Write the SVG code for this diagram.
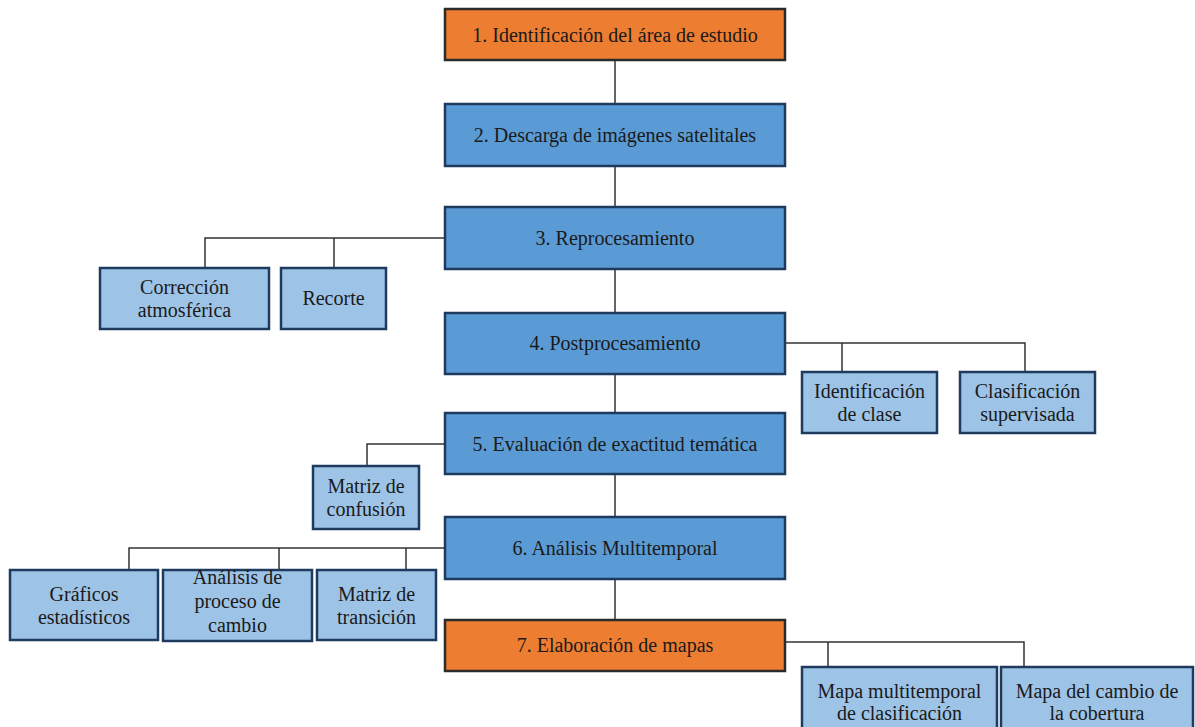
<svg xmlns="http://www.w3.org/2000/svg" width="1195" height="727" viewBox="0 0 1195 727" font-family="'Liberation Serif', 'DejaVu Serif', serif">
<style>
.main{fill:#5B9BD5;stroke:#1F3A5F;stroke-width:2.5}
.orange{fill:#ED7D31;stroke:#2B2B2B;stroke-width:2.5}
.sub{fill:#9DC3E6;stroke:#1F3A5F;stroke-width:2.5}
.conn{fill:none;stroke:#333333;stroke-width:1.5}
.t{font-family:'Liberation Serif','DejaVu Serif',serif;font-size:20px;fill:#1A1A1A;text-anchor:middle}
</style>
<rect width="1195" height="727" fill="#FFFFFF"/>
<g id="connectors">
<path class="conn" d="M615 60V104M615 166V207M615 269V313M615 374V413M615 474V517M615 579V620"/>
<path class="conn" d="M445 238H205V268M334 238V268"/>
<path class="conn" d="M785 343H1025V372M842 343V372"/>
<path class="conn" d="M445 444H367V466"/>
<path class="conn" d="M445 548H129V570M279 548V570M406 548V570"/>
<path class="conn" d="M785 642H1024V667M828 642V667"/>
</g>
<g id="n1"><rect class="orange" x="445" y="9" width="340" height="51"/><text class="t" x="615" y="42">1. Identificación del área de estudio</text></g>
<g id="n2"><rect class="main" x="445" y="104" width="340" height="62"/><text class="t" x="615" y="142">2. Descarga de imágenes satelitales</text></g>
<g id="n3"><rect class="main" x="445" y="207" width="340" height="62"/><text class="t" x="615" y="245">3. Reprocesamiento</text></g>
<g id="n3a"><rect class="sub" x="100" y="268" width="169" height="61"/><text class="t" x="184.5" y="294">Corrección</text><text class="t" x="184.5" y="317">atmosférica</text></g>
<g id="n3b"><rect class="sub" x="281" y="268" width="105" height="61"/><text class="t" x="333.5" y="305">Recorte</text></g>
<g id="n4"><rect class="main" x="445" y="313" width="340" height="61"/><text class="t" x="615" y="350">4. Postprocesamiento</text></g>
<g id="n4a"><rect class="sub" x="802" y="372" width="135" height="61"/><text class="t" x="869.5" y="398">Identificación</text><text class="t" x="869.5" y="421">de clase</text></g>
<g id="n4b"><rect class="sub" x="960" y="372" width="135" height="61"/><text class="t" x="1027.5" y="398">Clasificación</text><text class="t" x="1027.5" y="421">supervisada</text></g>
<g id="n5"><rect class="main" x="445" y="413" width="340" height="61"/><text class="t" x="615" y="451">5. Evaluación de exactitud temática</text></g>
<g id="n5a"><rect class="sub" x="313" y="466" width="106" height="63"/><text class="t" x="366" y="493">Matriz de</text><text class="t" x="366" y="516">confusión</text></g>
<g id="n6"><rect class="main" x="445" y="517" width="340" height="62"/><text class="t" x="615" y="555">6. Análisis Multitemporal</text></g>
<g id="n6a"><rect class="sub" x="10" y="570" width="148" height="70"/><text class="t" x="84" y="601">Gráficos</text><text class="t" x="84" y="624">estadísticos</text></g>
<g id="n6b"><rect class="sub" x="163" y="570" width="149" height="71"/><text class="t" x="237.5" y="584">Análisis de</text><text class="t" x="237.5" y="608">proceso de</text><text class="t" x="237.5" y="632">cambio</text></g>
<g id="n6c"><rect class="sub" x="317" y="570" width="119" height="70"/><text class="t" x="376.5" y="601">Matriz de</text><text class="t" x="376.5" y="624">transición</text></g>
<g id="n7"><rect class="orange" x="445" y="620" width="340" height="51"/><text class="t" x="615" y="652">7. Elaboración de mapas</text></g>
<g id="n7a"><rect class="sub" x="802" y="667" width="195" height="66"/><text class="t" x="899.5" y="698">Mapa multitemporal</text><text class="t" x="899.5" y="720">de clasificación</text></g>
<g id="n7b"><rect class="sub" x="1001" y="667" width="192" height="66"/><text class="t" x="1097" y="698">Mapa del cambio de</text><text class="t" x="1097" y="720">la cobertura</text></g>
</svg>
